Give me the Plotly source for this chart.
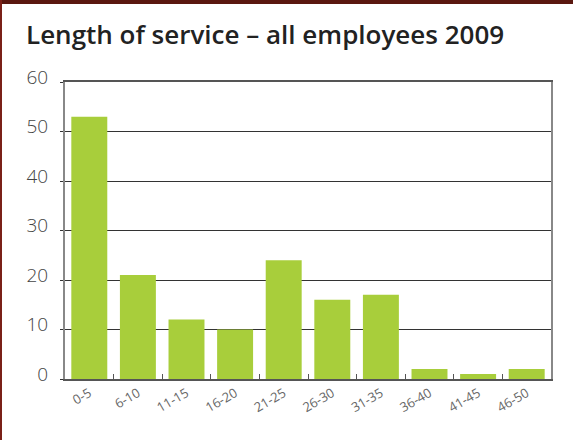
import plotly.graph_objects as go

# Length-of-service bands (years) and share of employees (%)
categories = ["0-5", "6-10", "11-15", "16-20", "21-25", "26-30", "31-35", "36-40", "41-45", "46-50"]
values = [53, 21, 12, 10, 24, 16, 17, 2, 1, 2]
y_ticks = [0, 10, 20, 30, 40, 50, 60]

W, H = 573, 440
L, R, T, B = 65, 22, 82, 61
pw, ph = W - L - R, H - T - B

fig = go.Figure(
    go.Bar(
        x=categories,
        y=values,
        marker=dict(color="#a8ce3b", line=dict(width=0)),
        width=0.74,
    )
)

# thin dark strip along the top and left edges of the page
def px_x(px):
    return (px - L) / pw

def px_y(py):
    return (H - B - py) / ph

fig.add_shape(type="rect", xref="paper", yref="paper",
              x0=px_x(0), x1=px_x(W), y0=px_y(4), y1=px_y(0),
              fillcolor="#5a1810", line=dict(width=0), layer="above")
fig.add_shape(type="rect", xref="paper", yref="paper",
              x0=px_x(0), x1=px_x(2), y0=px_y(H), y1=px_y(0),
              fillcolor="#7a2018", line=dict(width=0), layer="above")

fig.update_layout(
    width=W,
    height=H,
    margin=dict(l=L, r=R, t=T, b=B),
    paper_bgcolor="white",
    plot_bgcolor="white",
    showlegend=False,
    bargap=0.26,
    title=dict(
        text="Length of service \u2013 all employees 2009",
        x=26 / W, xref="container", xanchor="left",
        y=1 - 35 / H, yref="container", yanchor="middle",
        font=dict(family="Open Sans", size=26, color="#222222", weight=600),
    ),
    xaxis=dict(
        type="category",
        tickmode="array",
        tickvals=categories,
        ticktext=categories,
        tickson="boundaries",
        ticks="inside",
        ticklen=5,
        tickcolor="#555555",
        tickangle=-30,
        tickfont=dict(family="Open Sans", size=13, color="#666666"),
        showline=True,
        linecolor="#555555",
        linewidth=1.5,
        mirror=True,
        showgrid=False,
        zeroline=False,
    ),
    yaxis=dict(
        range=[0, 60],
        tickmode="array",
        tickvals=y_ticks,
        ticktext=[str(v) for v in y_ticks],
        ticks="outside",
        ticklen=3,
        tickcolor="#333333",
        ticklabelstandoff=8,
        ticklabelshift=-5,
        tickfont=dict(family="Open Sans", size=19, color="#444444", weight=300),
        showgrid=True,
        gridcolor="#333333",
        gridwidth=1,
        showline=True,
        linecolor="#888888",
        linewidth=2,
        mirror=True,
        zeroline=False,
    ),
)

fig.write_html("out.html")
